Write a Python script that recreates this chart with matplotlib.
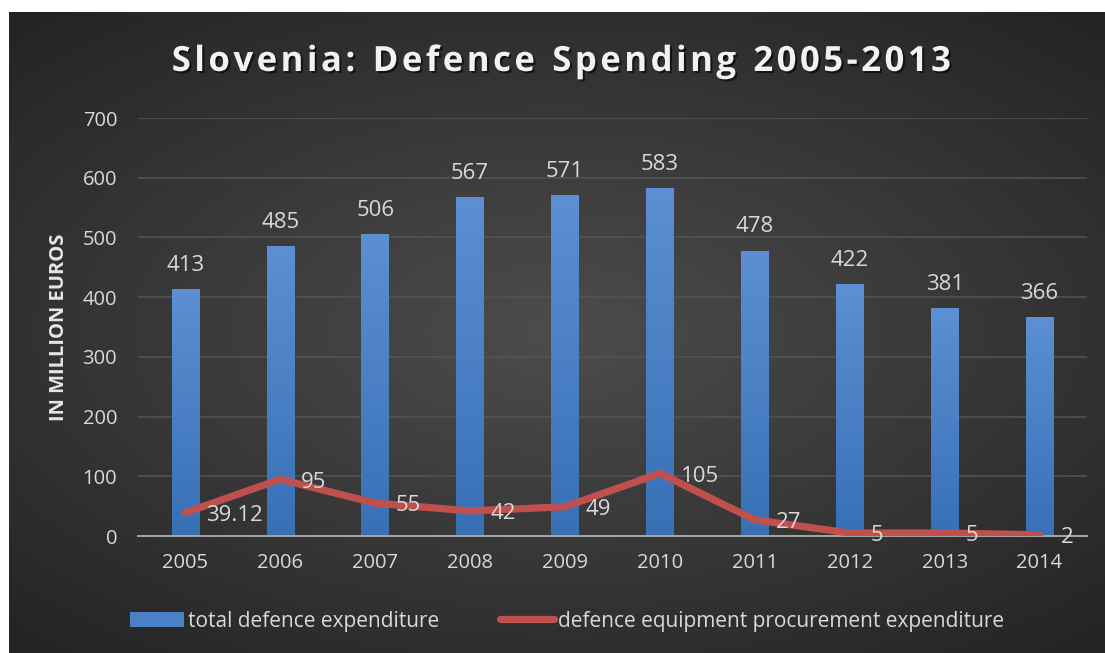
import numpy as np
import matplotlib.pyplot as plt
import matplotlib.patheffects as pe
from matplotlib.lines import Line2D
from matplotlib.patches import Patch

plt.rcParams['font.family'] = ['Open Sans', 'DejaVu Sans']

# data
years = ["2005", "2006", "2007", "2008", "2009", "2010", "2011", "2012", "2013", "2014"]
total_spend = [413, 485, 506, 567, 571, 583, 478, 422, 381, 366]
procurement = [39.12, 95, 55, 42, 49, 105, 27, 5, 5, 2]
procurement_labels = ["39.12", "95", "55", "42", "49", "105", "27", "5", "5", "2"]
y_ticks = [0, 100, 200, 300, 400, 500, 600, 700]

W, H = 1105, 653
fig = plt.figure(figsize=(W / 100, H / 100), dpi=100)
fig.patch.set_facecolor("white")

# dark radial background panel
bg = fig.add_axes([9 / W, 0, 1 - 9 / W, 1 - 12 / H])
bg.set_axis_off()
yy, xx = np.mgrid[-1:1:300j, -1:1:500j]
r = np.sqrt((xx * 0.95) ** 2 + (yy * 1.05) ** 2)
r = np.clip(r / 1.35, 0, 1)
inner, outer = np.array([0.30, 0.30, 0.30]), np.array([0.145, 0.145, 0.145])
img = inner[None, None, :] * (1 - r[..., None]) + outer[None, None, :] * r[..., None]
bg.imshow(img, aspect="auto", extent=[0, 1, 0, 1], interpolation="bilinear")
bg.set_xlim(0, 1)
bg.set_ylim(0, 1)

ax = fig.add_axes([138 / W, 1 - 536 / H, (1087 - 138) / W, (536 - 118) / H])
ax.patch.set_alpha(0)
x = np.arange(len(years))

bars = ax.bar(x, total_spend, width=0.29, color="#4a80c6", zorder=2)
grad = np.linspace(0, 1, 256)[:, None]
top, bot = np.array([0.36, 0.56, 0.83]), np.array([0.22, 0.44, 0.71])
bar_img = top[None, None, :] * (1 - grad[..., None]) + bot[None, None, :] * grad[..., None]
for b in bars:
    bx, bw, bh = b.get_x(), b.get_width(), b.get_height()
    im = ax.imshow(bar_img, aspect="auto", extent=[bx, bx + bw, 0, bh], zorder=2.1)
    im.set_clip_path(b)

for xi, v in zip(x, total_spend):
    ax.annotate(str(v), (xi, v), xytext=(0, 17), textcoords="offset points",
                ha="center", va="center", color="#d9d9d9", fontsize=16)

ax.plot(x, procurement, color="#c0504d", lw=5.2, solid_capstyle="round",
        solid_joinstyle="round", zorder=3)
for xi, v, lab in zip(x, procurement, procurement_labels):
    ax.annotate(lab, (xi, v), xytext=(15, -2), textcoords="offset points",
                ha="left", va="center", color="#d9d9d9", fontsize=16, zorder=4)

ax.set_xlim(-0.5, len(years) - 0.5)
ax.set_ylim(0, 700)
ax.set_yticks(y_ticks)
ax.set_xticks(x)
ax.set_xticklabels(years)
ax.tick_params(axis="both", length=0, colors="#d9d9d9", labelsize=14.5)
ax.tick_params(axis="y", pad=15)
ax.tick_params(axis="x", pad=12)
ax.grid(axis="y", color="#545454", lw=1.1, zorder=0)
ax.set_axisbelow(True)
for s in ["top", "right", "left"]:
    ax.spines[s].set_visible(False)
ax.spines["bottom"].set_color("#a6a6a6")
ax.spines["bottom"].set_linewidth(1.4)
ax.spines["bottom"].set_zorder(2.5)

ax.set_ylabel("IN MILLION EUROS", color="#e6e6e6", fontsize=14.5, fontweight="bold", labelpad=10)

fig.text(562 / W, 1 - 62 / H, "S l o v e n i a :  D e f e n c e  S p e n d i n g  2 0 0 5 - 2 0 1 3".replace("  ", "\u2002").replace(" ", "\u200a"),
         ha="center", va="center", color="#f2f2f2", fontsize=25, fontweight="bold",
         path_effects=[pe.withSimplePatchShadow(offset=(1.5, -1.5), shadow_rgbFace="black", alpha=0.6)])

handles = [Patch(facecolor="#4a80c6", edgecolor="none"),
           Line2D([0], [0], color="#c0504d", lw=5.2, solid_capstyle="round")]
leg = fig.legend(handles, ["total defence expenditure", "defence equipment procurement expenditure"],
                 loc="center", bbox_to_anchor=(567 / W, 1 - 621 / H), ncol=2, frameon=False,
                 fontsize=15, labelcolor="#d9d9d9", handlelength=2.6, handleheight=0.7,
                 handletextpad=0.2, columnspacing=2.9)

fig.savefig("out.png", dpi=100, facecolor=fig.get_facecolor())
